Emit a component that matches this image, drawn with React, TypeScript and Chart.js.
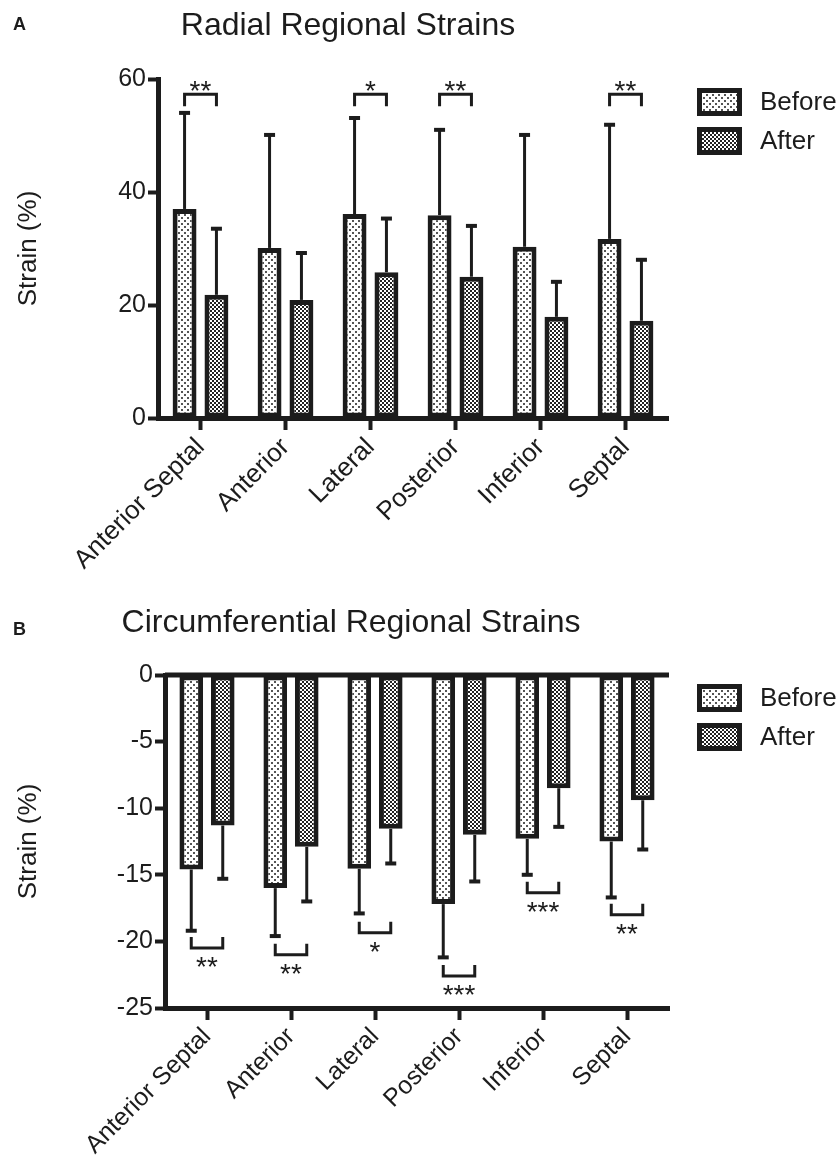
import React, { useEffect, useRef } from 'react';
import { Chart, registerables } from 'chart.js';

Chart.register(...registerables);

// ---------- data ----------
const categories = ['Anterior Septal', 'Anterior', 'Lateral', 'Posterior', 'Inferior', 'Septal'];
const seriesNames = ['Before', 'After'];

const radialBefore = [37.0, 30.1, 36.1, 35.9, 30.3, 31.7];
const radialBeforeSD = [17.0, 20.0, 17.0, 15.1, 19.8, 20.2];
const radialAfter = [21.8, 20.9, 25.8, 25.0, 17.9, 17.2];
const radialAfterSD = [11.7, 8.3, 9.5, 9.0, 6.2, 10.8];
const radialSig = ['**', '', '*', '**', '', '**'];
const radialBracket = [57.3, 0, 57.3, 57.3, 0, 57.3];
const radialTicks = { min: 0, max: 60, step: 20 };

const circBefore = [-14.6, -16.0, -14.55, -17.2, -12.3, -12.5];
const circBeforeSD = [4.6, 3.6, 3.35, 4.0, 2.7, 4.2];
const circAfter = [-11.3, -12.9, -11.55, -12.0, -8.5, -9.4];
const circAfterSD = [4.0, 4.1, 2.6, 3.5, 2.9, 3.7];
const circSig = ['**', '**', '*', '***', '***', '**'];
const circBracket = [-20.5, -21.0, -19.35, -22.6, -16.35, -18.0];
const circTicks = { min: -25, max: 0, step: 5 };

// ---------- style ----------
const FONT = "'Liberation Sans', Arial, Helvetica, sans-serif";
const INK = '#1c1c1c';

function dotPattern(): CanvasPattern | string {
  const c = document.createElement('canvas');
  c.width = 6; c.height = 6;
  const g = c.getContext('2d')!;
  g.fillStyle = '#ffffff'; g.fillRect(0, 0, 6, 6);
  g.fillStyle = '#555555';
  g.fillRect(1, 1, 2, 2);
  g.fillRect(4, 4, 2, 2);
  const p = g.createPattern(c, 'repeat');
  return p || '#ddd';
}

function checkerPattern(): CanvasPattern | string {
  const c = document.createElement('canvas');
  c.width = 4; c.height = 4;
  const g = c.getContext('2d')!;
  g.fillStyle = '#ffffff'; g.fillRect(0, 0, 4, 4);
  g.fillStyle = '#222222';
  g.fillRect(0, 0, 2, 2);
  g.fillRect(2, 2, 2, 2);
  const p = g.createPattern(c, 'repeat');
  return p || '#777';
}

interface PanelSpec {
  letter: string;
  title: string;
  titleX: number;
  titleBase: number;
  letterBase: number;
  before: number[];
  beforeSD: number[];
  after: number[];
  afterSD: number[];
  sig: string[];
  bracket: number[];
  ticks: { min: number; max: number; step: number };
  height: number;
  padTop: number;
  padRight: number;
  yWidth: number;
  xHeight: number;
  xFont: number;
  zeroLine: boolean;
}

function makePlugin(spec: PanelSpec) {
  return {
    id: 'panelDecor' + spec.letter,
    afterDatasetsDraw(chart: any) {
      const ctx: CanvasRenderingContext2D = chart.ctx;
      const y = chart.scales.y;
      const vals = [spec.before, spec.after];
      const sds = [spec.beforeSD, spec.afterSD];
      ctx.save();
      ctx.strokeStyle = INK;
      ctx.lineCap = 'butt';
      // error bars
      for (let di = 0; di < 2; di++) {
        const meta = chart.getDatasetMeta(di);
        meta.data.forEach((el: any, j: number) => {
          const v = vals[di][j];
          const sign = v >= 0 ? 1 : -1;
          const e = v + sign * sds[di][j];
          const x = el.x;
          const y0 = el.y;
          const y1 = y.getPixelForValue(e);
          ctx.lineWidth = 3;
          ctx.beginPath();
          ctx.moveTo(x, y0);
          ctx.lineTo(x, y1);
          ctx.stroke();
          ctx.lineWidth = 4;
          ctx.beginPath();
          ctx.moveTo(x - 5.5, y1);
          ctx.lineTo(x + 5.5, y1);
          ctx.stroke();
        });
      }
      // significance brackets
      const m0 = chart.getDatasetMeta(0);
      const m1 = chart.getDatasetMeta(1);
      ctx.fillStyle = INK;
      ctx.font = `28px ${FONT}`;
      ctx.textAlign = 'center';
      ctx.textBaseline = 'alphabetic';
      spec.sig.forEach((s, j) => {
        if (!s) return;
        const x1 = m0.data[j].x;
        const x2 = m1.data[j].x;
        const yb = y.getPixelForValue(spec.bracket[j]);
        const up = spec.bracket[j] > 0;
        const leg = up ? 12 : -11;
        ctx.lineWidth = 3;
        ctx.beginPath();
        ctx.moveTo(x1, yb + leg);
        ctx.lineTo(x1, yb);
        ctx.lineTo(x2, yb);
        ctx.lineTo(x2, yb + leg);
        ctx.stroke();
        const ty = up ? yb + 6 : yb + 28;
        ctx.fillText(s, (x1 + x2) / 2, ty);
      });
      ctx.restore();
    },
    afterDraw(chart: any) {
      const ctx: CanvasRenderingContext2D = chart.ctx;
      const area = chart.chartArea;
      ctx.save();
      if (spec.zeroLine) {
        const yz = chart.scales.y.getPixelForValue(0);
        ctx.strokeStyle = INK;
        ctx.lineWidth = 5;
        ctx.beginPath();
        ctx.moveTo(area.left, yz);
        ctx.lineTo(area.right, yz);
        ctx.stroke();
      }
      // panel letter and title
      ctx.fillStyle = INK;
      ctx.textBaseline = 'alphabetic';
      ctx.textAlign = 'left';
      ctx.font = `bold 18px ${FONT}`;
      ctx.fillText(spec.letter, 13, spec.letterBase);
      ctx.textAlign = 'center';
      ctx.font = `32px ${FONT}`;
      ctx.fillText(spec.title, spec.titleX, spec.titleBase);
      // legend
      const ds = chart.data.datasets;
      ds.forEach((d: any, i: number) => {
        const by = area.top + 9 + i * 39;
        ctx.fillStyle = d.backgroundColor;
        ctx.fillRect(697, by, 45, 28);
        ctx.strokeStyle = INK;
        ctx.lineWidth = 5;
        ctx.strokeRect(699.5, by + 2.5, 40, 23);
        ctx.fillStyle = INK;
        ctx.textAlign = 'left';
        ctx.textBaseline = 'middle';
        ctx.font = `26px ${FONT}`;
        ctx.fillText(d.label, 760, by + 15);
      });
      ctx.restore();
    },
  };
}

function buildChart(canvas: HTMLCanvasElement, spec: PanelSpec) {
  const before = dotPattern();
  const after = checkerPattern();
  return new Chart(canvas, {
    type: 'bar',
    data: {
      labels: categories,
      datasets: [
        {
          label: seriesNames[0],
          data: spec.before,
          backgroundColor: before as any,
          borderColor: INK,
          borderWidth: 5,
          borderSkipped: false,
          categoryPercentage: 0.75,
          barPercentage: 0.75,
        },
        {
          label: seriesNames[1],
          data: spec.after,
          backgroundColor: after as any,
          borderColor: INK,
          borderWidth: 5,
          borderSkipped: false,
          categoryPercentage: 0.75,
          barPercentage: 0.75,
        },
      ],
    },
    options: {
      responsive: false,
      animation: false,
      layout: { padding: { top: spec.padTop, right: spec.padRight, left: 0, bottom: 0 } },
      plugins: {
        legend: { display: false },
        title: { display: false },
        tooltip: { enabled: false },
      },
      scales: {
        x: {
          type: 'category',
          offset: true,
          grid: {
            display: true,
            drawOnChartArea: false,
            offset: false,
            tickLength: 12,
            tickWidth: 4,
            tickColor: INK,
            color: INK,
          },
          border: { display: true, width: 5, color: INK },
          ticks: {
            font: { family: FONT, size: spec.xFont },
            color: INK,
            minRotation: 45,
            maxRotation: 45,
            padding: 2,
            autoSkip: false,
          },
          afterFit: (s: any) => { s.height = spec.xHeight; },
        },
        y: {
          type: 'linear',
          min: spec.ticks.min,
          max: spec.ticks.max,
          ticks: { stepSize: spec.ticks.step, font: { family: FONT, size: 25 }, color: INK, padding: 2 },
          grid: {
            display: true,
            drawOnChartArea: false,
            tickLength: 10,
            tickWidth: 4,
            tickColor: INK,
            color: INK,
          },
          border: { display: true, width: 5, color: INK },
          title: {
            display: true,
            text: 'Strain (%)',
            color: INK,
            font: { family: FONT, size: 26 },
            padding: { top: 13, bottom: 0 },
          },
          afterFit: (s: any) => { s.width = spec.yWidth; },
        },
      },
    } as any,
    plugins: [makePlugin(spec)],
  });
}

const specA: PanelSpec = {
  letter: 'A',
  title: 'Radial Regional Strains',
  titleX: 348,
  titleBase: 35,
  letterBase: 30,
  before: radialBefore,
  beforeSD: radialBeforeSD,
  after: radialAfter,
  afterSD: radialAfterSD,
  sig: radialSig,
  bracket: radialBracket,
  ticks: radialTicks,
  height: 575,
  padTop: 79,
  padRight: 172,
  yWidth: 158,
  xHeight: 575 - 418,
  xFont: 26,
  zeroLine: false,
};

const specB: PanelSpec = {
  letter: 'B',
  title: 'Circumferential Regional Strains',
  titleX: 351,
  titleBase: 57,
  letterBase: 60,
  before: circBefore,
  beforeSD: circBeforeSD,
  after: circAfter,
  afterSD: circAfterSD,
  sig: circSig,
  bracket: circBracket,
  ticks: circTicks,
  height: 580,
  padTop: 100,
  padRight: 171,
  yWidth: 165,
  xHeight: 580 - 433,
  xFont: 25,
  zeroLine: true,
};

export default function App() {
  const refA = useRef<HTMLCanvasElement>(null);
  const refB = useRef<HTMLCanvasElement>(null);

  useEffect(() => {
    document.body.style.margin = '0';
    const charts: Chart[] = [];
    if (refA.current) charts.push(buildChart(refA.current, specA));
    if (refB.current) charts.push(buildChart(refB.current, specB));
    return () => { charts.forEach((c) => c.destroy()); };
  }, []);

  return (
    <div style={{ position: 'relative', width: 840, height: 1155, background: '#fff', overflow: 'hidden' }}>
      <canvas ref={refA} width={840} height={specA.height} style={{ position: 'absolute', left: 0, top: 0, width: 840, height: specA.height }} />
      <canvas ref={refB} width={840} height={specB.height} style={{ position: 'absolute', left: 0, top: 575, width: 840, height: specB.height }} />
    </div>
  );
}
